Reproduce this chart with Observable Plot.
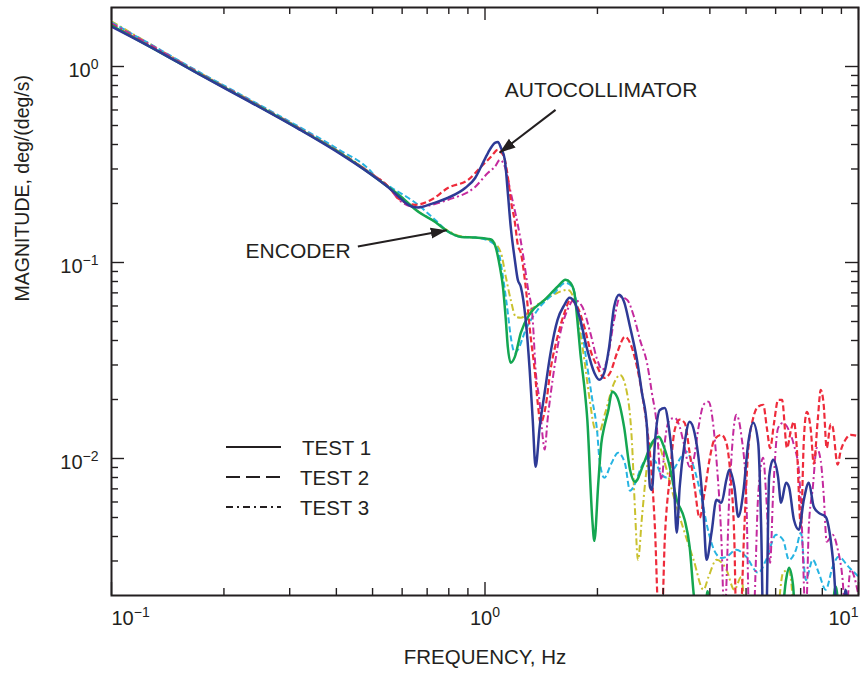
<!DOCTYPE html>
<html>
<head>
<meta charset="utf-8">
<script src="https://cdn.jsdelivr.net/npm/d3@7"></script>
<script src="https://cdn.jsdelivr.net/npm/@observablehq/plot@0.6"></script>
<style>
  html, body { margin: 0; padding: 0; background: #fff; }
  #chart svg { display: block; }
</style>
</head>
<body>
<div id="chart"></div>
<script>
// Frequency response magnitude, [frequency (Hz), magnitude (deg/(deg/s))]

// Autocollimator, three test runs
const autocollimatorTest1 = [
  [0.100,1.60],[0.127,1.26],[0.172,0.910],[0.234,0.662],[0.318,0.478],[0.406,0.362],[0.488,0.287],
  [0.552,0.241],[0.587,0.217],[0.613,0.201],[0.636,0.193],[0.664,0.191],[0.718,0.199],[0.797,0.214],
  [0.885,0.240],[0.941,0.270],[0.976,0.308],[1.019,0.363],[1.063,0.408],[1.083,0.412],[1.103,0.385],
  [1.130,0.334],[1.151,0.227],[1.172,0.152],[1.202,0.103],[1.224,0.0816],[1.247,0.0752],[1.285,0.051],
  [1.317,0.0284],[1.342,0.0158],[1.366,0.00907],[1.401,0.0145],[1.444,0.0216],[1.498,0.0346],
  [1.564,0.051],[1.632,0.0608],[1.683,0.0661],[1.735,0.063],[1.800,0.051],[1.879,0.0358],
  [1.962,0.0274],[2.023,0.0252],[2.086,0.0274],[2.150,0.0371],[2.217,0.0594],[2.286,0.0684],
  [2.357,0.063],[2.445,0.047],[2.552,0.0319],[2.632,0.0216],[2.714,0.0145],[2.765,0.00717],
  [2.798,0.00692],[2.850,0.0120],[2.938,0.0177],[3.029,0.0181],[3.105,0.0145],[3.201,0.00806],
  [3.261,0.00418],[3.321,0.00717],[3.424,0.0120],[3.531,0.0154],[3.640,0.0135],[3.754,0.00907],
  [3.847,0.00528],[3.918,0.00304],[4.040,0.00418],[4.166,0.00616],[4.295,0.00594],[4.429,0.00779],
  [4.511,0.00876],[4.651,0.00717],[4.766,0.00504],[4.913,0.00668],[5.068,0.0120],[5.225,0.0152],
  [5.388,0.0120],[5.488,0.00448],[5.556,0.0015],[5.659,0.0015],[5.764,0.00806],[5.906,0.00985],
  [6.090,0.00806],[6.203,0.00594],[6.396,0.00752],[6.514,0.00717],[6.716,0.00487],[6.925,0.00433],
  [7.140,0.00616],[7.362,0.00752],[7.590,0.00567],[7.827,0.00528],[8.169,0.00504],[8.423,0.00385],
  [8.579,0.0028],[8.792,0.0015],[9.068,0.0015],[9.236,0.00214],[9.406,0.0015]
];
const autocollimatorTest2 = [
  [0.100,1.63],[0.127,1.27],[0.172,0.918],[0.234,0.668],[0.318,0.481],[0.406,0.367],[0.488,0.290],
  [0.552,0.243],[0.587,0.212],[0.651,0.197],[0.718,0.209],[0.797,0.2405],[0.901,0.264],[0.976,0.308],
  [1.0375,0.346],[1.083,0.376],[1.103,0.367],[1.130,0.334],[1.151,0.274],[1.172,0.209],[1.202,0.161],
  [1.224,0.123],[1.247,0.112],[1.285,0.0752],[1.325,0.0418],[1.358,0.0284],[1.384,0.0192],
  [1.409,0.0152],[1.453,0.0184],[1.498,0.0284],[1.564,0.0418],[1.632,0.0554],[1.693,0.0645],
  [1.767,0.0594],[1.845,0.047],[1.914,0.0358],[1.998,0.0294],[2.086,0.0258],[2.163,0.0274],
  [2.258,0.0346],[2.371,0.0418],[2.445,0.0389],[2.552,0.0294],[2.632,0.0216],[2.714,0.0145],
  [2.798,0.00806],[2.850,0.00448],[2.920,0.0015],[2.974,0.0015],[3.029,0.00385],[3.124,0.00806],
  [3.221,0.014],[3.321,0.0158],[3.424,0.0152],[3.531,0.0107],[3.640,0.00717],[3.754,0.00498],
  [3.870,0.00668],[3.991,0.00985],[4.115,0.0125],[4.295,0.0132],[4.429,0.0120],[4.538,0.00836],
  [4.651,0.00385],[4.708,0.0015],[4.824,0.0015],[4.944,0.00433],[5.068,0.0111],[5.225,0.0161],
  [5.388,0.0184],[5.556,0.0188],[5.693,0.014],[5.799,0.0113],[5.942,0.0152],[6.090,0.0199],
  [6.241,0.0199],[6.435,0.0113],[6.595,0.014],[6.716,0.0154],[6.841,0.0111],[7.010,0.0045],
  [7.140,0.0125],[7.272,0.0173],[7.452,0.014],[7.590,0.0094],[7.780,0.0158],[7.923,0.0224],
  [8.069,0.0188],[8.219,0.0113],[8.423,0.0150],[8.527,0.0145],[8.792,0.0093],[8.956,0.0109],
  [9.236,0.0125],[9.522,0.0132],[10,0.013]
];
const autocollimatorTest3 = [
  [0.100,1.66],[0.127,1.29],[0.172,0.925],[0.234,0.672],[0.318,0.485],[0.406,0.367],[0.488,0.290],
  [0.552,0.243],[0.587,0.210],[0.651,0.192],[0.797,0.209],[0.941,0.243],[1.019,0.287],[1.063,0.308],
  [1.096,0.334],[1.130,0.308],[1.172,0.227],[1.224,0.156],[1.262,0.112],[1.301,0.0752],[1.342,0.051],
  [1.366,0.0284],[1.401,0.0192],[1.427,0.0129],[1.444,0.0111],[1.471,0.0158],[1.517,0.0252],
  [1.583,0.0418],[1.663,0.0574],[1.735,0.0645],[1.822,0.0594],[1.914,0.0438],[1.998,0.0319],
  [2.060,0.0284],[2.124,0.0319],[2.217,0.051],[2.300,0.0668],[2.400,0.0645],[2.506,0.0528],
  [2.600,0.0403],[2.714,0.0308],[2.798,0.0216],[2.885,0.0145],[2.938,0.00876],[2.974,0.00779],
  [3.029,0.012],[3.124,0.0158],[3.221,0.0161],[3.321,0.0145],[3.404,0.012],[3.531,0.00907],
  [3.618,0.00985],[3.731,0.0145],[3.847,0.0188],[3.967,0.0195],[4.090,0.0145],[4.166,0.00985],
  [4.295,0.00385],[4.375,0.0015],[4.511,0.00653],[4.708,0.0167],[4.854,0.0132],[5.006,0.00653],
  [5.099,0.0015],[5.225,0.0015],[5.388,0.00653],[5.556,0.0101],[5.659,0.00653],[5.799,0.00294],
  [5.906,0.00653],[6.090,0.0143],[6.279,0.0152],[6.514,0.0139],[6.716,0.0117],[6.925,0.00866],
  [7.053,0.00448],[7.228,0.0015],[7.362,0.00448],[7.544,0.00709],[7.731,0.0113],[7.923,0.00973],
  [8.069,0.00653],[8.219,0.00376],[8.527,0.00408],[8.792,0.00346],[9.068,0.0024],[9.236,0.0015],
  [9.522,0.00271],[10,0.0020]
];

// Encoder, three test runs
const encoderTest1 = [
  [0.100,1.62],[0.127,1.26],[0.172,0.915],[0.234,0.665],[0.318,0.480],[0.406,0.365],[0.488,0.288],
  [0.552,0.242],[0.587,0.2215],[0.664,0.181],[0.736,0.161],[0.783,0.147],[0.8635,0.135],[0.941,0.134],
  [1.019,0.132],[1.0375,0.131],[1.063,0.123],[1.096,0.0951],[1.117,0.0752],[1.137,0.051],[1.151,0.0371],
  [1.172,0.0308],[1.202,0.033],[1.247,0.0438],[1.325,0.0554],[1.444,0.0645],[1.564,0.0752],
  [1.642,0.0816],[1.693,0.0788],[1.735,0.0701],[1.767,0.051],[1.800,0.0346],[1.845,0.0232],
  [1.879,0.0158],[1.938,0.00487],[1.962,0.0038],[2.010,0.00743],[2.048,0.0119],[2.086,0.0145],
  [2.137,0.0175],[2.190,0.0219],[2.258,0.0206],[2.357,0.0145],[2.445,0.00876],[2.521,0.0076],
  [2.665,0.00951],[2.798,0.012],[2.920,0.0129],[3.011,0.0115],[3.105,0.00951],[3.261,0.00616],
  [3.424,0.00487],[3.531,0.00354],[3.618,0.00206],[3.685,0.0015],[3.870,0.0015],[3.942,0.0021],
  [4.040,0.0015],[6.203,0.0015],[6.396,0.0024],[6.514,0.00277],[6.676,0.00227],[6.800,0.0015],
  [8.423,0.0015],[8.685,0.00222],[8.956,0.0015],[10,0.0015]
];
const encoderTest2 = [
  [0.100,1.68],[0.127,1.30],[0.172,0.935],[0.234,0.680],[0.318,0.492],[0.406,0.377],[0.488,0.300],
  [0.519,0.264],[0.562,0.2405],[0.651,0.2016],[0.736,0.165],[0.797,0.1434],[0.8635,0.135],[0.941,0.134],
  [1.0375,0.1275],[1.083,0.116],[1.117,0.0845],[1.151,0.0554],[1.172,0.0418],[1.202,0.0346],
  [1.224,0.0358],[1.285,0.0453],[1.384,0.0574],[1.535,0.0701],[1.642,0.0788],[1.714,0.0752],
  [1.767,0.0594],[1.822,0.0438],[1.879,0.0294],[1.938,0.0199],[1.998,0.0135],[2.023,0.0101],
  [2.086,0.00797],[2.177,0.0094],[2.272,0.0107],[2.371,0.0094],[2.445,0.00684],[2.521,0.00743],
  [2.616,0.00897],[2.731,0.0101],[2.850,0.00973],[2.956,0.00836],[3.085,0.00797],[3.221,0.00897],
  [3.342,0.0101],[3.445,0.0109],[3.596,0.0094],[3.800,0.0063],[3.942,0.00443],[4.115,0.00338],
  [4.295,0.00311],[4.429,0.00315],[4.708,0.00342],[5.006,0.00315],[5.388,0.00261],[5.659,0.00304],
  [6.016,0.00408],[6.279,0.00385],[6.514,0.00304],[6.800,0.00342],[7.010,0.00418],[7.228,0.0024],
  [7.544,0.00304],[7.827,0.00261],[8.169,0.00214],[8.527,0.0028],[8.846,0.00315],[9.406,0.0028],
  [10,0.0025]
];
const encoderTest3 = [
  [0.100,1.70],[0.127,1.30],[0.172,0.930],[0.234,0.675],[0.318,0.486],[0.406,0.368],[0.488,0.291],
  [0.552,0.244],[0.587,0.2215],[0.664,0.182],[0.736,0.161],[0.783,0.148],[0.8635,0.136],[0.941,0.134],
  [1.019,0.131],[1.050,0.1275],[1.103,0.1121],[1.137,0.0845],[1.172,0.0645],[1.209,0.0528],
  [1.247,0.0522],[1.325,0.0574],[1.444,0.0645],[1.564,0.0701],[1.663,0.0726],[1.735,0.0645],
  [1.789,0.047],[1.845,0.0319],[1.902,0.0206],[1.974,0.014],[2.023,0.0137],[2.098,0.0171],
  [2.217,0.0243],[2.300,0.0267],[2.400,0.0216],[2.475,0.012],[2.521,0.00547],[2.568,0.00304],
  [2.632,0.00504],[2.714,0.00907],[2.832,0.012],[2.920,0.0117],[3.011,0.00985],[3.201,0.00638],
  [3.404,0.00433],[3.618,0.00304],[3.847,0.00214],[3.967,0.00249],[4.166,0.00304],[4.429,0.00271],
  [4.651,0.00214],[4.854,0.00249],[5.006,0.0015],[6.016,0.0015],[6.279,0.00261],[6.514,0.00271],
  [6.800,0.0015],[10,0.0015]
];

// Axis ticks
const xMajorTicks = [0.1, 1, 10];
const xMinorTicks = [0.2, 0.3, 0.4, 0.5, 0.6, 0.7, 0.8, 0.9, 2, 3, 4, 5, 6, 7, 8, 9];
const yMajorTicks = [0.01, 0.1, 1];
const yMinorTicks = [0.003, 0.004, 0.005, 0.006, 0.007, 0.008, 0.009,
                     0.02, 0.03, 0.04, 0.05, 0.06, 0.07, 0.08, 0.09,
                     0.2, 0.3, 0.4, 0.5, 0.6, 0.7, 0.8, 0.9];

// Legend entries (line style per test run)
const legendLabels = ["TEST 1", "TEST 2", "TEST 3"];

// Callouts: label anchor and arrow from the label to the curve
const callouts = [
  {label: "AUTOCOLLIMATOR", tx: 1.13, ty: 0.752, x1: 1.545, y1: 0.601, x2: 1.094, y2: 0.363},
  {label: "ENCODER", tx: 0.2286, ty: 0.1147, x1: 0.4566, y1: 0.1207, x2: 0.79, y2: 0.146}
];

const ink = "#231f20";
const font = "'Liberation Sans', Arial, Helvetica, sans-serif";

const W = 860, H = 681;
const margin = {left: 111, right: 2, top: 7, bottom: 86};
const frameW = W - margin.left - margin.right;
const frameH = H - margin.top - margin.bottom;

const styles = [
  {data: encoderTest3,        stroke: "#c9c12e", dash: "7,3,2,3", width: 2},
  {data: encoderTest2,        stroke: "#27b4e2", dash: "6,3",     width: 2},
  {data: autocollimatorTest3, stroke: "#c42a9e", dash: "7,3,2,3", width: 2},
  {data: autocollimatorTest2, stroke: "#ee2b3b", dash: "6,3",     width: 2.2},
  {data: encoderTest1,        stroke: "#14a651", dash: null,      width: 2.5},
  {data: autocollimatorTest1, stroke: "#2e3a96", dash: null,      width: 2.5}
];

const curveMarks = styles.map(s => Plot.line(s.data, {
  x: d => d[0],
  y: d => d[1],
  stroke: s.stroke,
  strokeWidth: s.width,
  strokeDasharray: s.dash ?? undefined,
  strokeLinecap: s.dash ? "butt" : "round",
  curve: "monotone-x",
  clip: true
}));

// Ticks pointing into the frame on all four sides
const tick = {stroke: ink, strokeWidth: 1.4};
const xTicks = (ticks, size) => [
  Plot.tickX(ticks, {x: d => d, insetTop: frameH - size, ...tick}),
  Plot.tickX(ticks, {x: d => d, insetBottom: frameH - size, ...tick})
];
const yTicks = (ticks, size) => [
  Plot.tickY(ticks, {y: d => d, insetRight: frameW - size, ...tick}),
  Plot.tickY(ticks, {y: d => d, insetLeft: frameW - size, ...tick})
];

const expLabel = d => "10^" + String(Math.round(Math.log10(d))).replace("-", "\u2212");

const chart = Plot.plot({
  width: W,
  height: H,
  marginLeft: margin.left,
  marginRight: margin.right,
  marginTop: margin.top,
  marginBottom: margin.bottom,
  style: {fontFamily: font, color: ink, background: "#fff"},
  x: {type: "log", domain: [0.1, 10], label: null, axis: null},
  y: {type: "log", domain: [0.002, 2], label: null, axis: null},
  marks: [
    ...curveMarks,
    // decade labels
    Plot.text(yMajorTicks, {y: d => d, text: expLabel,
      frameAnchor: "left", textAnchor: "end", dx: -13, dy: 4, fontSize: 20, fill: ink}),
    Plot.text([xMajorTicks[0]], {x: d => d, text: expLabel,
      frameAnchor: "bottom", textAnchor: "start", dy: 29, fontSize: 20, fill: ink}),
    Plot.text([xMajorTicks[1]], {x: d => d, text: expLabel,
      frameAnchor: "bottom", textAnchor: "middle", dy: 29, fontSize: 20, fill: ink}),
    Plot.text([xMajorTicks[2]], {x: d => d, text: expLabel,
      frameAnchor: "bottom", textAnchor: "end", dy: 29, fontSize: 20, fill: ink}),
    // axis titles
    Plot.text(["FREQUENCY, Hz"], {frameAnchor: "bottom", dy: 68, fontSize: 20.5, fill: ink}),
    Plot.text(["MAGNITUDE, deg/(deg/s)"], {frameAnchor: "left", dx: -89, rotate: -90, fontSize: 19.5, fill: ink}),
    // callouts
    Plot.link(callouts, {x1: "x1", y1: "y1", x2: "x2", y2: "y2", stroke: ink, strokeWidth: 2}),
    Plot.text(callouts, {x: "tx", y: "ty", text: "label", textAnchor: "start", fontSize: 21, fill: ink}),
    // frame and inward ticks on top
    Plot.frame({stroke: ink, strokeWidth: 2}),
    ...xTicks(xMinorTicks, 7), ...xTicks(xMajorTicks, 13),
    ...yTicks(yMinorTicks, 7), ...yTicks(yMajorTicks, 13)
  ]
});

const svg = d3.select(chart);

// superscript exponents on decade labels
svg.selectAll("text").each(function () {
  const s = this.textContent;
  if (s.includes("^")) {
    const [base, exp] = s.split("^");
    const t = d3.select(this);
    t.text(base);
    t.append("tspan").attr("dy", -8).attr("font-size", 14).text(exp);
  }
});

// filled arrowheads on the callout lines
const defs = svg.insert("defs", ":first-child");
defs.append("marker")
  .attr("id", "callout-head")
  .attr("viewBox", "-16 -6 16 12")
  .attr("refX", 0).attr("refY", 0)
  .attr("markerWidth", 16).attr("markerHeight", 12)
  .attr("markerUnits", "userSpaceOnUse")
  .attr("orient", "auto")
  .append("path").attr("d", "M0,0L-16,-5.5L-16,5.5Z").attr("fill", ink);
svg.selectAll('g[aria-label="link"] path, g[aria-label="link"] line')
  .attr("marker-end", "url(#callout-head)");

// legend of line styles
const dashes = [null, "14,6", "7,4,2,4"];
const legend = svg.append("g")
  .attr("font-family", font).attr("font-size", 20.5)
  .attr("fill", ink).attr("text-anchor", "start");
legendLabels.forEach((label, i) => {
  const y = 447 + i * 30;
  legend.append("line")
    .attr("x1", 226).attr("x2", 281).attr("y1", y).attr("y2", y)
    .attr("stroke", ink).attr("stroke-width", 2)
    .attr("stroke-dasharray", dashes[i]);
  legend.append("text")
    .attr("x", i === 0 ? 302 : 300).attr("y", y + 1)
    .attr("dy", "0.35em")
    .text(label);
});

document.getElementById("chart").append(chart);
</script>
</body>
</html>
